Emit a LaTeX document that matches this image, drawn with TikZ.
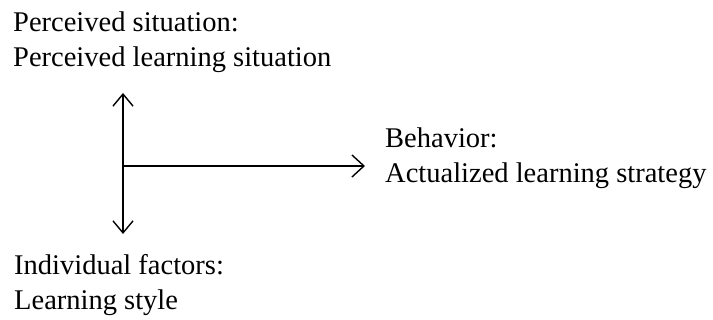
\documentclass[tikz,border=0pt]{standalone}
\usepackage{fontspec}
\setmainfont{Liberation Serif}
\usetikzlibrary{arrows.meta}
\tikzset{
  lbl/.style={anchor=base west, inner sep=0pt, align=left, font=\fontsize{28.5}{35}\selectfont},
  conn/.style={line width=1.4pt, arrows={Straight Barb[length=12pt,width=20pt,line width=1.4pt]-Straight Barb[length=12pt,width=20pt,line width=1.4pt]}},
  oneway/.style={line width=1.4pt, -{Straight Barb[length=12pt,width=22pt,line width=1.4pt]}}
}
\begin{document}
\begin{tikzpicture}[x=1pt,y=-1pt]
\useasboundingbox (0,0) rectangle (713,320);
\node[lbl] (perc) at (13,67) {Perceived situation:\\Perceived learning situation};
\node[lbl] (beh) at (385,183) {Behavior:\\Actualized learning strategy};
\node[lbl] (ind) at (14,310) {Individual factors:\\Learning style};
\coordinate (top) at (123,93);
\coordinate (bot) at (123,234);
\coordinate (hub) at (123,166);
\coordinate (tip) at (365,166);
\draw[conn] (top) -- (bot);
\draw[oneway] (hub) -- (tip);
\end{tikzpicture}
\end{document}
